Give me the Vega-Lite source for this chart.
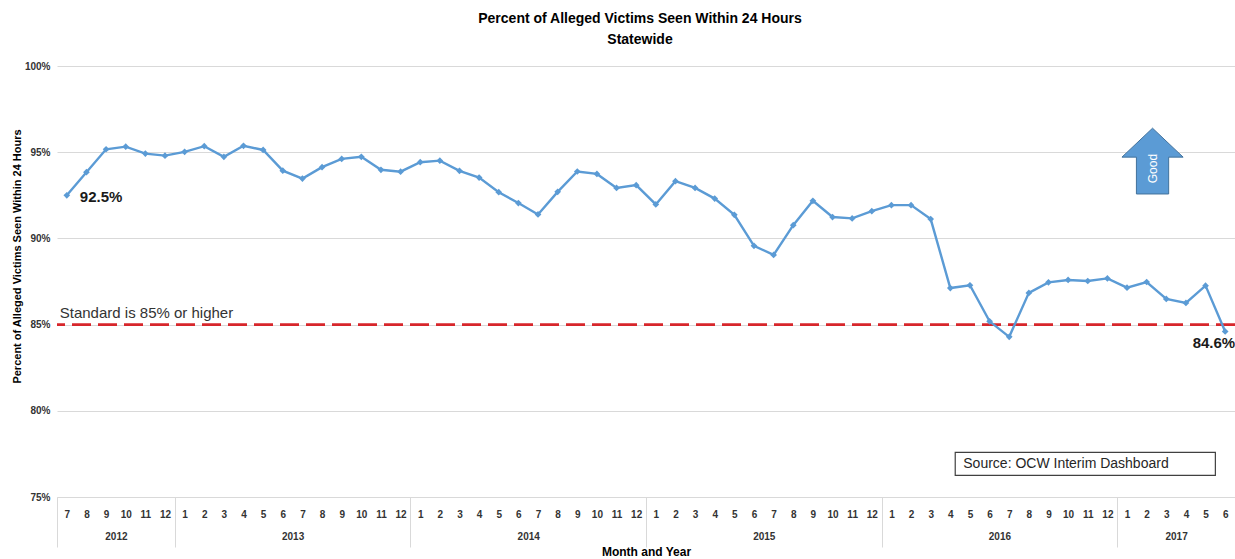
{
  "$schema": "https://vega.github.io/schema/vega-lite/v6.json",
  "width": 1178,
  "height": 431,
  "autosize": {"type": "none"},
  "padding": {"left": 57, "top": 66, "right": 0, "bottom": 62},
  "background": "white",
  "config": {"view": {"stroke": null}, "font": "Liberation Sans"},
  "title": {
    "text": ["Percent of Alleged Victims Seen Within 24 Hours", "Statewide"],
    "fontSize": 14, "fontWeight": "bold", "color": "#000000",
    "anchor": "middle", "frame": "group", "offset": 14, "lineHeight": 21, "dx": -6
  },
  "datasets": {
    "series": [
      {"idx": 0, "year": 2012, "month": 7, "value": 0.925},
      {"idx": 1, "year": 2012, "month": 8, "value": 0.9384},
      {"idx": 2, "year": 2012, "month": 9, "value": 0.9517},
      {"idx": 3, "year": 2012, "month": 10, "value": 0.9532},
      {"idx": 4, "year": 2012, "month": 11, "value": 0.9492},
      {"idx": 5, "year": 2012, "month": 12, "value": 0.948},
      {"idx": 6, "year": 2013, "month": 1, "value": 0.9502},
      {"idx": 7, "year": 2013, "month": 2, "value": 0.9535},
      {"idx": 8, "year": 2013, "month": 3, "value": 0.9473},
      {"idx": 9, "year": 2013, "month": 4, "value": 0.9537},
      {"idx": 10, "year": 2013, "month": 5, "value": 0.9513},
      {"idx": 11, "year": 2013, "month": 6, "value": 0.9393},
      {"idx": 12, "year": 2013, "month": 7, "value": 0.9347},
      {"idx": 13, "year": 2013, "month": 8, "value": 0.9413},
      {"idx": 14, "year": 2013, "month": 9, "value": 0.9461},
      {"idx": 15, "year": 2013, "month": 10, "value": 0.9473},
      {"idx": 16, "year": 2013, "month": 11, "value": 0.9398},
      {"idx": 17, "year": 2013, "month": 12, "value": 0.9387},
      {"idx": 18, "year": 2014, "month": 1, "value": 0.9442},
      {"idx": 19, "year": 2014, "month": 2, "value": 0.9451},
      {"idx": 20, "year": 2014, "month": 3, "value": 0.9392},
      {"idx": 21, "year": 2014, "month": 4, "value": 0.9353},
      {"idx": 22, "year": 2014, "month": 5, "value": 0.9268},
      {"idx": 23, "year": 2014, "month": 6, "value": 0.9205},
      {"idx": 24, "year": 2014, "month": 7, "value": 0.9139},
      {"idx": 25, "year": 2014, "month": 8, "value": 0.927},
      {"idx": 26, "year": 2014, "month": 9, "value": 0.9388},
      {"idx": 27, "year": 2014, "month": 10, "value": 0.9374},
      {"idx": 28, "year": 2014, "month": 11, "value": 0.9293},
      {"idx": 29, "year": 2014, "month": 12, "value": 0.9309},
      {"idx": 30, "year": 2015, "month": 1, "value": 0.9197},
      {"idx": 31, "year": 2015, "month": 2, "value": 0.9332},
      {"idx": 32, "year": 2015, "month": 3, "value": 0.9293},
      {"idx": 33, "year": 2015, "month": 4, "value": 0.9231},
      {"idx": 34, "year": 2015, "month": 5, "value": 0.9137},
      {"idx": 35, "year": 2015, "month": 6, "value": 0.8957},
      {"idx": 36, "year": 2015, "month": 7, "value": 0.8904},
      {"idx": 37, "year": 2015, "month": 8, "value": 0.9077},
      {"idx": 38, "year": 2015, "month": 9, "value": 0.9218},
      {"idx": 39, "year": 2015, "month": 10, "value": 0.9124},
      {"idx": 40, "year": 2015, "month": 11, "value": 0.9116},
      {"idx": 41, "year": 2015, "month": 12, "value": 0.9158},
      {"idx": 42, "year": 2016, "month": 1, "value": 0.9193},
      {"idx": 43, "year": 2016, "month": 2, "value": 0.9193},
      {"idx": 44, "year": 2016, "month": 3, "value": 0.9112},
      {"idx": 45, "year": 2016, "month": 4, "value": 0.8712},
      {"idx": 46, "year": 2016, "month": 5, "value": 0.8728},
      {"idx": 47, "year": 2016, "month": 6, "value": 0.8519},
      {"idx": 48, "year": 2016, "month": 7, "value": 0.8429},
      {"idx": 49, "year": 2016, "month": 8, "value": 0.8684},
      {"idx": 50, "year": 2016, "month": 9, "value": 0.8745},
      {"idx": 51, "year": 2016, "month": 10, "value": 0.8759},
      {"idx": 52, "year": 2016, "month": 11, "value": 0.8753},
      {"idx": 53, "year": 2016, "month": 12, "value": 0.8768},
      {"idx": 54, "year": 2017, "month": 1, "value": 0.8714},
      {"idx": 55, "year": 2017, "month": 2, "value": 0.8747},
      {"idx": 56, "year": 2017, "month": 3, "value": 0.8649},
      {"idx": 57, "year": 2017, "month": 4, "value": 0.8626},
      {"idx": 58, "year": 2017, "month": 5, "value": 0.8726},
      {"idx": 59, "year": 2017, "month": 6, "value": 0.846}
    ],
    "years": [
      {"year": 2012, "center": 2.5},
      {"year": 2013, "center": 11.5},
      {"year": 2014, "center": 23.5},
      {"year": 2015, "center": 35.5},
      {"year": 2016, "center": 47.5},
      {"year": 2017, "center": 56.5}
    ],
    "seps": [
      {"pos": -0.5}, {"pos": 5.5}, {"pos": 17.5}, {"pos": 29.5},
      {"pos": 41.5}, {"pos": 53.5}, {"pos": 59.5}
    ],
    "standard": [{"value": 0.85}],
    "notes": [
      {"label": "Standard is 85% or higher", "idx": -0.36, "value": 0.8565}
    ],
    "arrow": [{"label": "Good", "idx": 55.3, "value": 0.94485, "textValue": 0.9405}],
    "source": [
      {"label": "Source: OCW Interim Dashboard", "idx": 45.25, "idx2": 58.5, "value": 0.7759, "value2": 0.7626, "textIdx": 45.66, "textValue": 0.7692}
    ]
  },
  "layer": [
    {
      "layer": [
        {
          "data": {"name": "standard"},
          "mark": {"type": "rule", "color": "#D7262B", "strokeWidth": 2.6, "strokeDash": [19, 7]},
          "encoding": {
            "y": {"field": "value", "type": "quantitative", "scale": {"domain": [0.75, 1.0], "nice": false, "zero": false}}
          }
        },
        {
          "data": {"name": "series"},
          "mark": {"type": "line", "color": "#5B9BD5", "strokeWidth": 2.4},
          "encoding": {
            "x": {
              "field": "idx", "type": "quantitative",
              "scale": {"domain": [-0.5, 59.5], "nice": false, "zero": false},
              "axis": {
                "values": [0,1,2,3,4,5,6,7,8,9,10,11,12,13,14,15,16,17,18,19,20,21,22,23,24,25,26,27,28,29,30,31,32,33,34,35,36,37,38,39,40,41,42,43,44,45,46,47,48,49,50,51,52,53,54,55,56,57,58,59],
                "tickCount": 60,
                "labelExpr": "((datum.value + 6) % 12) + 1",
                "ticks": false, "grid": false, "domain": true, "domainColor": "#d9d9d9", "domainWidth": 1,
                "labelPadding": 12, "labelFontSize": 10, "labelFontWeight": "bold", "labelColor": "#333333", "labelAngle": 0,
                "labelOverlap": false, "labelFlush": false, "labelSeparation": 0, "title": null
              }
            },
            "y": {
              "field": "value", "type": "quantitative",
              "scale": {"domain": [0.75, 1.0], "nice": false, "zero": false},
              "axis": {
                "values": [0.75, 0.8, 0.85, 0.9, 0.95, 1.0],
                "format": ".0%", "grid": true, "gridColor": "#d9d9d9", "gridWidth": 1,
                "domain": false, "ticks": false, "labelPadding": 7, "labelFontSize": 10,
                "labelFontWeight": "bold", "labelColor": "#333333",
                "title": "Percent of Alleged Victims Seen Within 24 Hours",
                "titleFontSize": 11, "titleFontWeight": "bold", "titleColor": "#000000",
                "titleX": -40, "titleY": 190, "titleBaseline": "middle", "titleAlign": "center"
              }
            }
          }
        },
        {
          "data": {"name": "series"},
          "mark": {"type": "point", "shape": "diamond", "filled": true, "size": 45, "color": "#5B9BD5", "opacity": 1},
          "encoding": {
            "x": {"field": "idx", "type": "quantitative"},
            "y": {"field": "value", "type": "quantitative"}
          }
        },
        {
          "data": {"name": "series"},
          "transform": [{"filter": "datum.idx == 0"}],
          "mark": {"type": "text", "align": "left", "baseline": "middle", "dx": 13, "dy": 2, "fontSize": 15, "fontWeight": "bold", "color": "#1a1a1a"},
          "encoding": {
            "x": {"field": "idx", "type": "quantitative"},
            "y": {"field": "value", "type": "quantitative"},
            "text": {"field": "value", "format": ".1%"}
          }
        },
        {
          "data": {"name": "series"},
          "transform": [{"filter": "datum.idx == 59"}],
          "mark": {"type": "text", "align": "right", "baseline": "middle", "dx": 10, "dy": 12, "fontSize": 15, "fontWeight": "bold", "color": "#1a1a1a"},
          "encoding": {
            "x": {"field": "idx", "type": "quantitative"},
            "y": {"field": "value", "type": "quantitative"},
            "text": {"field": "value", "format": ".1%"}
          }
        },
        {
          "data": {"name": "notes"},
          "mark": {"type": "text", "align": "left", "baseline": "middle", "fontSize": 15, "color": "#333333"},
          "encoding": {
            "x": {"field": "idx", "type": "quantitative"},
            "y": {"field": "value", "type": "quantitative"},
            "text": {"field": "label"}
          }
        },
        {
          "data": {"name": "arrow"},
          "mark": {
            "type": "point", "filled": true, "opacity": 1, "size": 4330,
            "shape": "M0,-1 L0.93,-0.12 L0.49,-0.12 L0.49,1 L-0.49,1 L-0.49,-0.12 L-0.93,-0.12 Z",
            "fill": "#5B9BD5", "stroke": "#41719C", "strokeWidth": 1
          },
          "encoding": {
            "x": {"field": "idx", "type": "quantitative"},
            "y": {"field": "value", "type": "quantitative"}
          }
        },
        {
          "data": {"name": "arrow"},
          "mark": {"type": "text", "angle": 270, "align": "center", "baseline": "middle", "fontSize": 12, "color": "#ffffff"},
          "encoding": {
            "x": {"field": "idx", "type": "quantitative"},
            "y": {"field": "textValue", "type": "quantitative"},
            "text": {"field": "label"}
          }
        },
        {
          "data": {"name": "source"},
          "mark": {"type": "rect", "fill": "#ffffff", "stroke": "#404040", "strokeWidth": 1.2},
          "encoding": {
            "x": {"field": "idx", "type": "quantitative"},
            "x2": {"field": "idx2"},
            "y": {"field": "value", "type": "quantitative"},
            "y2": {"field": "value2"}
          }
        },
        {
          "data": {"name": "source"},
          "mark": {"type": "text", "align": "left", "baseline": "middle", "fontSize": 14, "color": "#262626"},
          "encoding": {
            "x": {"field": "textIdx", "type": "quantitative"},
            "y": {"field": "textValue", "type": "quantitative"},
            "text": {"field": "label"}
          }
        }
      ]
    },
    {
      "data": {"name": "years"},
      "mark": {"type": "rule", "opacity": 0},
      "encoding": {
        "x": {
          "field": "center", "type": "quantitative",
          "scale": {"domain": [-0.5, 59.5], "nice": false, "zero": false},
          "axis": {
            "orient": "bottom",
            "values": [2.5, 11.5, 23.5, 35.5, 47.5, 56.5],
            "labelExpr": "floor((datum.value + 6) / 12) + 2012",
            "ticks": false, "grid": false, "domain": false,
            "labelPadding": 34, "labelFontSize": 10, "labelFontWeight": "bold", "labelColor": "#333333",
            "labelOverlap": false, "labelFlush": false,
            "title": "Month and Year", "titleFontSize": 12, "titleFontWeight": "bold",
            "titleColor": "#000000", "titleY": 54, "titleBaseline": "middle"
          }
        }
      }
    },
    {
      "data": {"name": "seps"},
      "mark": {"type": "rule", "opacity": 0},
      "encoding": {
        "x": {
          "field": "pos", "type": "quantitative",
          "scale": {"domain": [-0.5, 59.5], "nice": false, "zero": false},
          "axis": {
            "orient": "bottom",
            "values": [-0.5, 5.5, 17.5, 29.5, 41.5, 53.5, 59.5],
            "ticks": true, "tickSize": 50, "tickColor": "#d9d9d9", "tickWidth": 1,
            "labels": false, "grid": false, "domain": false, "title": null
          }
        }
      }
    }
  ],
  "resolve": {"scale": {"x": "independent"}, "axis": {"x": "independent"}}
}
